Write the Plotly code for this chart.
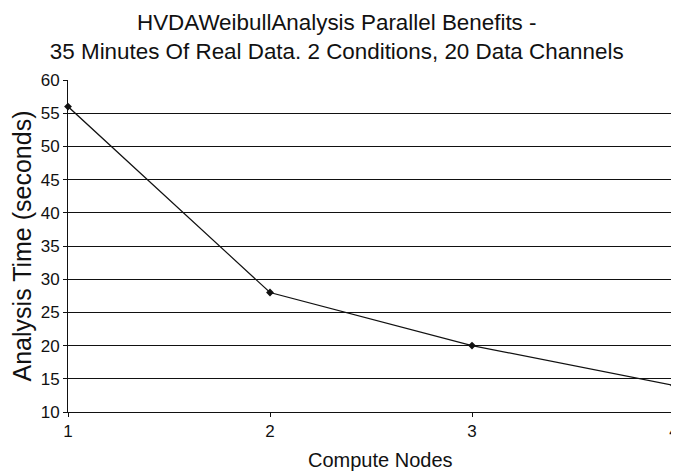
import plotly.graph_objects as go

nodes = [1, 2, 3, 4]
analysis_time = [56, 28, 20, 14]
y_ticks = [10, 15, 20, 25, 30, 35, 40, 45, 50, 55, 60]
x_ticks = [1, 2, 3, 4]
title_lines = [
    "HVDAWeibullAnalysis Parallel Benefits -",
    "35 Minutes Of Real Data. 2 Conditions, 20 Data Channels",
]
x_title = "Compute Nodes"
y_title = "Analysis Time (seconds)"

FONT = "Liberation Sans, Arial, sans-serif"

fig = go.Figure()
fig.add_trace(go.Scatter(
    x=nodes, y=analysis_time, mode="lines+markers",
    line=dict(color="#111111", width=1.2),
    marker=dict(symbol="diamond", size=6, color="#111111"),
    cliponaxis=False, showlegend=False,
))

fig.add_annotation(
    text=x_title,
    xref="paper", yref="paper", x=0.5155, y=-0.145,
    xanchor="center", yanchor="middle", showarrow=False,
    font=dict(size=20, family=FONT, color="#111111"),
)

fig.update_layout(
    width=679, height=472,
    margin=dict(l=60, r=8, t=72, b=68),
    paper_bgcolor="white", plot_bgcolor="white",
    font=dict(family=FONT, color="#111111"),
    title=dict(
        text="<br>".join(title_lines),
        xref="paper", x=0.4435, xanchor="center",
        yref="container", y=0.953, yanchor="middle",
        font=dict(size=22.4, family=FONT, color="#111111"),
    ),
    xaxis=dict(
        range=[1, 4], tickvals=x_ticks, ticktext=[str(v) for v in x_ticks],
        showgrid=False, zeroline=False,
        showline=True, linecolor="#111111", linewidth=1,
        ticks="outside", ticklen=4, tickcolor="#111111",
        tickfont=dict(size=17),
    ),
    yaxis=dict(
        range=[10, 60], tickvals=y_ticks,
        showgrid=True, gridcolor="#111111", gridwidth=1,
        zeroline=False,
        showline=True, linecolor="#111111", linewidth=1,
        ticks="outside", ticklen=4, tickcolor="#111111",
        tickfont=dict(size=17),
        title=dict(text=y_title, font=dict(size=25), standoff=3),
    ),
)

fig.write_html("out.html")
